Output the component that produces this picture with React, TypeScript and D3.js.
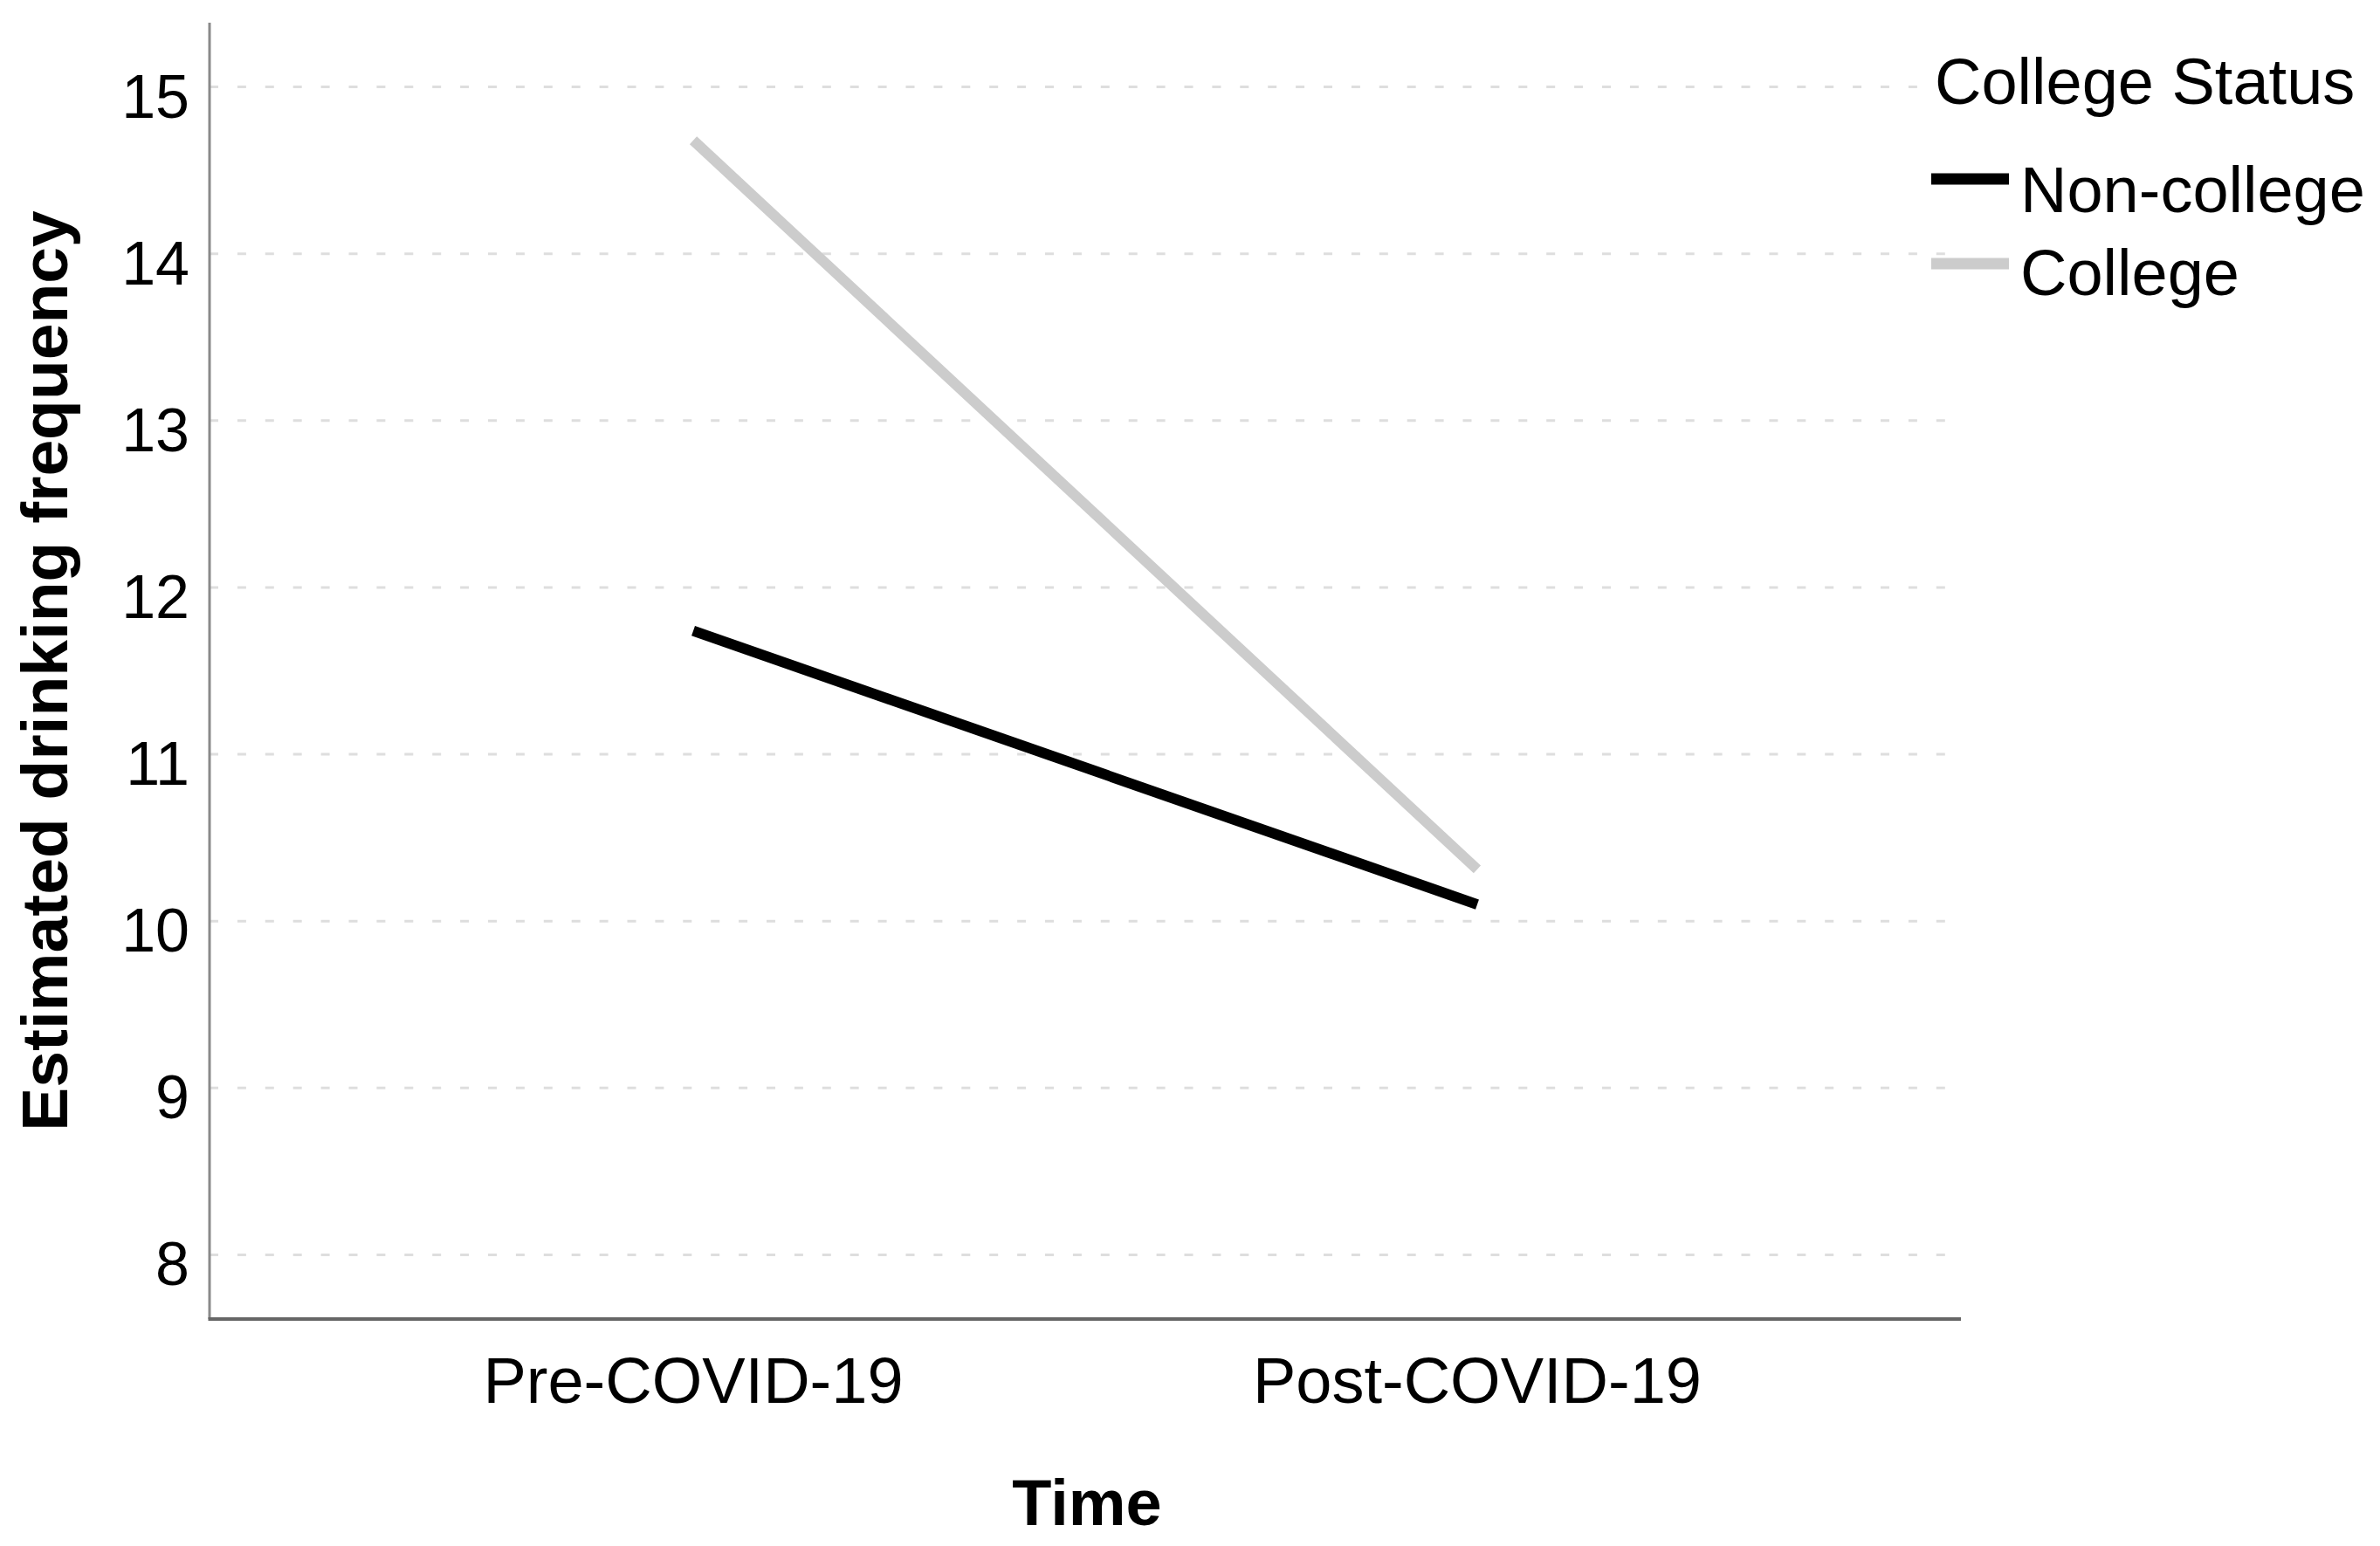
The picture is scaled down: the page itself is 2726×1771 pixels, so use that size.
import React from "react";
import * as d3 from "d3";

const timePoints = ["Pre-COVID-19", "Post-COVID-19"];
const seriesNames = ["Non-college", "College"];
const nonCollegeValues = [11.74, 10.1];
const collegeValues = [14.68, 10.31];
const yTicks = [8, 9, 10, 11, 12, 13, 14, 15];
const seriesColors = ["#000000", "#cccccc"];

const W = 2726;
const H = 1771;
const left = 240;
const right = 2246;
const top = 26;
const bottom = 1511;
const FONT = "'Liberation Sans', Arial, Helvetica, sans-serif";

export default function App() {
  const x = d3.scalePoint<string>().domain(timePoints).range([left, right]).padding(0.617);
  const y = d3.scaleLinear().domain([7.615, 15.385]).range([bottom, top]);
  const line = d3
    .line<number>()
    .x((_, i) => x(timePoints[i]) as number)
    .y((d) => y(d));
  const series = [nonCollegeValues, collegeValues];

  return (
    <div style={{ position: "absolute", left: 0, top: 0, background: "#fff" }}>
      <svg width={W} height={H} viewBox={`0 0 ${W} ${H}`} style={{ display: "block" }}>
        <rect x={0} y={0} width={W} height={H} fill="#ffffff" />
        {/* gridlines */}
        {yTicks.map((t) => (
          <line
            key={"g" + t}
            x1={left}
            x2={2230}
            y1={y(t)}
            y2={y(t)}
            stroke="#dedede"
            strokeWidth={3}
            strokeDasharray="10 21.9"
          />
        ))}
        {/* axes */}
        <line x1={left} x2={left} y1={top} y2={bottom} stroke="#8a8a8a" strokeWidth={3} />
        <line x1={left - 1.5} x2={right} y1={bottom} y2={bottom} stroke="#666666" strokeWidth={4} />
        {/* y tick labels */}
        {yTicks.map((t) => (
          <text
            key={"t" + t}
            x={217}
            y={y(t) + 35}
            textAnchor="end"
            fontFamily={FONT}
            fontSize={70}
            fill="#000"
          >
            {t}
          </text>
        ))}
        {/* x tick labels */}
        {timePoints.map((c) => (
          <text
            key={c}
            x={x(c) as number}
            y={1607}
            textAnchor="middle"
            fontFamily={FONT}
            fontSize={74}
            fill="#000"
          >
            {c}
          </text>
        ))}
        {/* axis titles */}
        <text
          x={1245}
          y={1747}
          textAnchor="middle"
          fontFamily={FONT}
          fontWeight="bold"
          fontSize={74}
          fill="#000"
        >
          Time
        </text>
        <text
          transform={`translate(77, ${(top + bottom) / 2}) rotate(-90)`}
          textAnchor="middle"
          fontFamily={FONT}
          fontWeight="bold"
          fontSize={75}
          fill="#000"
        >
          Estimated drinking frequency
        </text>
        {/* lines */}
        {series.map((vals, i) => (
          <path
            key={seriesNames[i]}
            d={line(vals) as string}
            fill="none"
            stroke={seriesColors[i]}
            strokeWidth={12}
            strokeLinecap="butt"
          />
        ))}
        {/* legend */}
        <rect x={2212} y={60} width={500} height={70} fill="#ffffff" />
        <text x={2216} y={119} fontFamily={FONT} fontSize={74} fill="#000">
          College Status
        </text>
        {seriesNames.map((s, i) => (
          <g key={"l" + s}>
            <line
              x1={2212}
              x2={2301}
              y1={205 + i * 97}
              y2={205 + i * 97}
              stroke={seriesColors[i]}
              strokeWidth={13}
            />
            <text x={2314} y={243 + i * 95} fontFamily={FONT} fontSize={74} fill="#000">
              {s}
            </text>
          </g>
        ))}
      </svg>
    </div>
  );
}
